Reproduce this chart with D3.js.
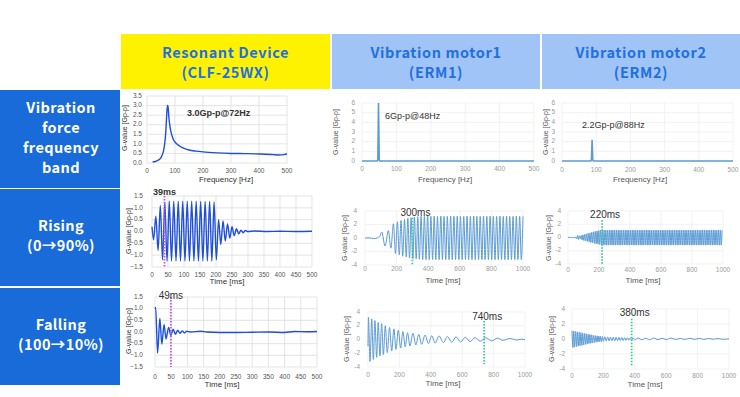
<!DOCTYPE html>
<html>
<head>
<meta charset="utf-8">
<script src="https://cdn.jsdelivr.net/npm/d3@7"></script>
<style>
  body { margin: 0; background: #fff; }
  svg { display: block; }
</style>
</head>
<body>
<svg id="canvas" width="740" height="397"></svg>
<script>
// ---- table text ----
let columnTitles = [['Resonant Device', '(CLF-25WX)'], ['Vibration motor1', '(ERM1)'], ['Vibration motor2', '(ERM2)']];
let rowTitles = [['Vibration', 'force', 'frequency', 'band'], ['Rising', '(0\u219290%)'], ['Falling', '(100\u219210%)']];

// ---- ticks ----
let freqTicks = [0, 100, 200, 300, 400, 500];
let resFreqYTicks = [0, 0.5, 1, 1.5, 2, 2.5, 3, 3.5];
let ermFreqYTicks = [0, 1, 2, 3, 4, 5, 6];
let resTimeTicks = [0, 50, 100, 150, 200, 250, 300, 350, 400, 450, 500];
let resGTicks = [-1.5, -1, -0.5, 0, 0.5, 1, 1.5];
let ermTimeTicks = [0, 200, 400, 600, 800, 1000];
let ermGTicks = [-4, -2, 0, 2, 4];

// ---- frequency response ----
let resFreqHz = [20, 30, 40, 45, 50, 55, 60, 64, 67, 70, 73, 75, 78, 82, 86, 90, 95, 100, 110, 120, 135, 150, 175, 200, 250, 300, 350, 400, 450, 470, 490, 500];
let resFreqG = [0.05, 0.08, 0.15, 0.2, 0.28, 0.45, 0.7, 1.1, 1.6, 2.4, 3.0, 2.95, 2.4, 1.9, 1.6, 1.4, 1.2, 1.1, 0.95, 0.85, 0.75, 0.68, 0.62, 0.58, 0.53, 0.5, 0.49, 0.47, 0.44, 0.42, 0.44, 0.47];
let erm1FreqHz = [0, 44, 46, 48, 50, 52, 500];
let erm1FreqG = [0, 0, 0.1, 6, 0.1, 0, 0];
let erm2FreqHz = [0, 84, 86, 88, 90, 92, 500];
let erm2FreqG = [0, 0, 0.1, 2.2, 0.1, 0, 0];

// ---- waveforms: [time ms, G] at each turning point ----
let resRise = [[0, 0.2], [5, -0.35], [12, 0.65], [19, -0.8], [26, 1.1], [33, -1.2], [40, 1.25], [47, -1.25], [54, 1.28], [61, -1.25],
  [68, 1.28], [75, -1.25], [82, 1.28], [89, -1.25], [96, 1.28], [103, -1.25], [110, 1.28], [117, -1.25], [124, 1.28], [131, -1.25],
  [138, 1.28], [145, -1.25], [152, 1.27], [159, -1.25], [166, 1.27], [173, -1.25], [180, 1.27], [187, -1.25], [194, 1.25], [201, -1.2],
  [208, 0.5], [215, -0.55], [222, 0.45], [229, -0.4], [236, 0.32], [243, -0.28], [250, 0.2], [257, -0.18], [264, 0.12], [271, -0.1],
  [278, 0.06], [285, -0.05], [292, 0.04], [300, 0], [320, 0.02], [360, 0], [400, 0.01], [450, 0], [500, 0.01]];

let resFall = [[0, 1.0], [2, 1.05], [8, -0.9], [15, 0.58], [21, -0.52], [28, 0.32], [34, -0.3], [42, 0.2], [49, -0.15], [56, 0.12],
  [63, -0.1], [70, 0.08], [77, -0.06], [84, 0.05], [91, -0.04], [98, 0.03], [110, 0], [140, 0.03], [160, 0], [200, -0.02],
  [250, -0.02], [300, -0.01], [350, 0], [400, -0.02], [430, 0.02], [470, 0.01], [500, 0.02]];

let erm1Rise = [[0, 0], [30, 0.02], [55, -0.1], [80, 0.05], [95, 0.3], [106, 0.9], [127, -1.2], [148, 1.1], [164, -1.5], [180, 2.1],
  [193, -2.3], [205, 2.4], [217, -2.5], [228, 2.6], [239, -2.7], [250, 2.75], [261, -2.8], [271, 2.9], [282, -2.95], [292, 3.0],
  [303, -3.05], [313, 3.1], [324, -3.1], [334, 3.15], [344, -3.15], [355, 3.2], [365, -3.2], [376, 3.2], [386, -3.2], [396, 3.25],
  [407, -3.2], [417, 3.2], [428, -3.2], [438, 3.25], [448, -3.2], [459, 3.2], [469, -3.2], [480, 3.25], [490, -3.2], [500, 3.2],
  [511, -3.2], [521, 3.2], [532, -3.2], [542, 3.25], [552, -3.2], [563, 3.2], [573, -3.2], [584, 3.25], [594, -3.2], [604, 3.2],
  [615, -3.2], [625, 3.2], [636, -3.2], [646, 3.25], [656, -3.2], [667, 3.2], [677, -3.2], [688, 3.25], [698, -3.2], [708, 3.2],
  [719, -3.2], [729, 3.2], [740, -3.2], [750, 3.25], [760, -3.2], [771, 3.2], [781, -3.2], [792, 3.25], [802, -3.2], [812, 3.2],
  [823, -3.2], [833, 3.2], [844, -3.2], [854, 3.25], [864, -3.2], [875, 3.2], [885, -3.2], [896, 3.25], [906, -3.2], [916, 3.2],
  [927, -3.2], [937, 3.2], [948, -3.2], [958, 3.25], [968, -3.2], [979, 3.2], [989, -3.2], [1000, 3.2]];

let erm1Fall = [[0, -1], [3, 3.2], [13, -3.2], [24, 3.0], [34, -2.9], [44, 2.75], [55, -2.6], [65, 2.5], [76, -2.4], [87, 2.3],
  [98, -2.2], [110, 2.0], [123, -1.9], [137, 1.75], [151, -1.65], [165, 1.55], [178, -1.45], [193, 1.35], [208, -1.25], [222, 1.15],
  [237, -1.05], [252, 1.0], [267, -0.95], [286, 0.9], [305, -0.8], [323, 0.75], [342, -0.7], [363, 0.65], [385, -0.6], [406, 0.55],
  [427, -0.5], [453, 0.5], [480, -0.45], [506, 0.45], [533, -0.4], [561, 0.38], [590, -0.35], [620, 0.33], [650, -0.3], [682, 0.28],
  [715, -0.25], [750, 0.25], [788, -0.2], [824, 0.2], [860, -0.12], [903, 0.15], [947, -0.08], [975, 0.05], [1000, 0]];

// ERM2 rising is sampled at every half cycle (88 Hz)
let erm2RiseStep = 5.68;
let erm2Rise = [0, 0.02, -0.02, 0.03, -0.03, 0.02, -0.05, 0.05, -0.1, 0.1,
  -0.2, 0.3, -0.3, 0.25, -0.2, 0.3, -0.35, 0.4, -0.45, 0.5,
  -0.5, 0.55, -0.6, 0.65, -0.65, 0.7, -0.75, 0.8, -0.8, 0.85,
  -0.9, 0.95, -0.95, 1.0, -1.0, 1.05, -1.05, 1.1, -1.1, 1.1,
  -1.15, 1.1, -1.15, 1.12, -1.15, 1.1, -1.15, 1.1, -1.12, 1.1, -1.15, 1.12, -1.15, 1.1, -1.15, 1.1, -1.12, 1.1, -1.15, 1.12,
  -1.15, 1.1, -1.15, 1.1, -1.12, 1.1, -1.15, 1.12, -1.15, 1.1, -1.15, 1.1, -1.12, 1.1, -1.15, 1.12, -1.15, 1.1, -1.15, 1.1,
  -1.12, 1.1, -1.15, 1.12, -1.15, 1.1, -1.15, 1.1, -1.12, 1.1, -1.15, 1.12, -1.15, 1.1, -1.15, 1.1, -1.12, 1.1, -1.15, 1.12,
  -1.15, 1.1, -1.15, 1.1, -1.12, 1.1, -1.15, 1.12, -1.15, 1.1, -1.15, 1.1, -1.12, 1.1, -1.15, 1.12, -1.15, 1.1, -1.15, 1.1,
  -1.12, 1.1, -1.15, 1.12, -1.15, 1.1, -1.15, 1.1, -1.12, 1.1, -1.15, 1.12, -1.15, 1.1, -1.15, 1.1, -1.12, 1.1, -1.15, 1.12,
  -1.15, 1.1, -1.15, 1.1, -1.12, 1.1, -1.15, 1.12, -1.15, 1.1, -1.15, 1.1, -1.12, 1.1, -1.15, 1.12, -1.15, 1.1, -1.15, 1.1,
  -1.12, 1.1, -1.15, 1.12, -1.15, 1.1, -1.15, 1.1, -1.12, 1.1, -1.15, 1.12, -1.15, 1.1, -1.15, 1.1];

let erm2Fall = [[0, 1.1], [6, -1.15], [11, 1.05], [17, -1.05], [23, 1.0], [29, -1.0], [34, 0.95], [40, -0.95], [46, 0.9], [51, -0.9],
  [57, 0.85], [63, -0.85], [68, 0.8], [74, -0.8], [80, 0.75], [86, -0.72], [91, 0.7], [97, -0.68], [103, 0.65], [108, -0.62],
  [114, 0.6], [120, -0.57], [125, 0.55], [131, -0.52], [137, 0.5], [143, -0.48], [148, 0.45], [154, -0.43], [160, 0.42], [165, -0.4],
  [171, 0.38], [177, -0.36], [182, 0.35], [188, -0.33], [194, 0.32], [200, -0.3],
  [209, 0.3], [218, -0.28], [227, 0.28], [236, -0.26], [245, 0.26], [254, -0.25], [263, 0.25], [272, -0.24], [281, 0.23], [290, -0.22],
  [299, 0.22], [308, -0.2], [317, 0.2], [326, -0.2], [335, 0.18], [344, -0.18], [353, 0.17], [362, -0.16], [371, 0.15], [380, -0.15],
  [389, 0.14], [398, -0.13],
  [420, 0.12], [445, -0.1], [470, 0.1], [495, -0.1], [520, 0.12], [548, -0.08], [575, 0.1], [600, -0.08], [630, 0.12], [660, -0.06],
  [690, 0.08], [720, -0.06], [750, 0.1], [780, -0.05], [810, 0.08], [840, -0.05], [870, 0.07], [900, -0.04], [930, 0.06], [960, -0.04],
  [1000, 0.02]];

// ---- measured times ----
let markerTimes = { resRise: 39, resFall: 49, erm1Rise: 300, erm1Fall: 740, erm2Rise: 220, erm2Fall: 380 };

let canvas = d3.select('#canvas');
let headFont = "'Noto Sans CJK JP', 'Noto Sans', sans-serif";
let chartFont = "'Liberation Sans', Arial, sans-serif";

// ---- table ----
canvas.append('rect').attr('width', 740).attr('height', 397).attr('fill', '#fff');

let colX = [[121, 209], [332, 208], [542, 198]];
let colFill = ['#fff200', '#9fc4f5', '#9fc4f5'];
let rowY = [[90, 98], [189, 97], [288, 97]];

canvas.selectAll('.colhead')
  .data(columnTitles)
  .enter()
  .append('rect')
  .attr('x', (d, i) => colX[i][0])
  .attr('y', 34)
  .attr('width', (d, i) => colX[i][1])
  .attr('height', 55)
  .attr('fill', (d, i) => colFill[i]);

columnTitles.forEach((lines, i) => {
  lines.forEach((t, j) => {
    canvas.append('text')
      .attr('x', colX[i][0] + colX[i][1] / 2)
      .attr('y', 54 + j * 20)
      .attr('text-anchor', 'middle')
      .attr('dominant-baseline', 'middle')
      .attr('font-family', headFont)
      .attr('font-weight', 700)
      .attr('font-size', 14.5)
      .attr('letter-spacing', 0.6)
      .attr('fill', '#2270e0')
      .text(t);
  });
});

canvas.selectAll('.rowhead')
  .data(rowTitles)
  .enter()
  .append('rect')
  .attr('x', 0)
  .attr('y', (d, i) => rowY[i][0])
  .attr('width', 120)
  .attr('height', (d, i) => rowY[i][1])
  .attr('fill', '#1a6bda');

rowTitles.forEach((lines, i) => {
  let mid = rowY[i][0] + rowY[i][1] / 2;
  lines.forEach((t, j) => {
    canvas.append('text')
      .attr('x', 61)
      .attr('y', mid + (j - (lines.length - 1) / 2) * 20)
      .attr('text-anchor', 'middle')
      .attr('dominant-baseline', 'middle')
      .attr('font-family', headFont)
      .attr('font-weight', 700)
      .attr('font-size', 14.5)
      .attr('letter-spacing', 0.4)
      .attr('fill', '#fff')
      .text(t);
  });
});

// ---- one small chart ----
let drawPanel = (p) => {
  let g = canvas.append('g');
  let x = d3.scaleLinear().domain(p.xDomain).range([p.x0, p.x1]);
  let y = d3.scaleLinear().domain(p.yDomain).range([p.yb, p.yt]);

  g.selectAll('.hg').data(p.yTicks).enter().append('line')
    .attr('x1', p.x0).attr('x2', p.x1)
    .attr('y1', d => y(d)).attr('y2', d => y(d))
    .attr('stroke', p.grid).attr('stroke-width', 0.7);
  g.selectAll('.vg').data(p.xTicks).enter().append('line')
    .attr('x1', d => x(d)).attr('x2', d => x(d))
    .attr('y1', p.yt).attr('y2', p.yb)
    .attr('stroke', p.grid).attr('stroke-width', 0.7);

  g.selectAll('.yl').data(p.yTicks).enter().append('text')
    .attr('x', p.yLabelX).attr('y', d => y(d))
    .attr('text-anchor', 'end').attr('dominant-baseline', 'middle')
    .attr('font-family', chartFont).attr('font-size', p.tickSize)
    .attr('fill', p.tickColor)
    .text(d => p.yFormat ? d3.format(p.yFormat)(d) : d);
  g.selectAll('.xl').data(p.xTicks).enter().append('text')
    .attr('x', d => x(d)).attr('y', p.xLabelY)
    .attr('text-anchor', 'middle').attr('dominant-baseline', 'middle')
    .attr('font-family', chartFont).attr('font-size', p.tickSize)
    .attr('fill', p.tickColor)
    .text(d => d);

  g.append('text')
    .attr('x', p.xTitle[0]).attr('y', p.xTitle[1])
    .attr('text-anchor', 'middle').attr('dominant-baseline', 'middle')
    .attr('font-family', chartFont).attr('font-size', 8)
    .attr('fill', p.titleColor)
    .text(p.xName);
  g.append('text')
    .attr('transform', 'translate(' + p.yTitle[0] + ',' + p.yTitle[1] + ') rotate(-90)')
    .attr('text-anchor', 'middle').attr('dominant-baseline', 'middle')
    .attr('font-family', chartFont).attr('font-size', 7)
    .attr('fill', p.titleColor)
    .text('G-value [Gp-p]');

  let line = d3.line()
    .x(d => x(d[0]))
    .y(d => y(d[1]))
    .curve(p.smooth ? d3.curveMonotoneX : d3.curveLinear);
  g.append('path')
    .datum(p.data)
    .attr('d', line)
    .attr('fill', 'none')
    .attr('stroke', p.color)
    .attr('stroke-width', p.width);

  if (p.marker !== undefined) {
    g.append('line')
      .attr('x1', x(p.marker)).attr('x2', x(p.marker))
      .attr('y1', y(p.markerTop)).attr('y2', y(p.markerBottom))
      .attr('stroke', p.markerColor).attr('stroke-width', 1.8)
      .attr('stroke-dasharray', '1.5,1.5');
    g.append('text')
      .attr('x', x(p.marker) + p.markerDx).attr('y', p.markerLabelY)
      .attr('text-anchor', 'middle').attr('dominant-baseline', 'middle')
      .attr('font-family', chartFont).attr('font-size', p.markerSize)
      .attr('font-weight', p.markerBold ? 700 : 400)
      .attr('fill', '#333')
      .text(p.marker + 'ms');
  }
  if (p.note) {
    g.append('text')
      .attr('x', p.note[1]).attr('y', p.note[2])
      .attr('dominant-baseline', 'middle')
      .attr('font-family', chartFont).attr('font-size', 9)
      .attr('font-weight', p.noteBold ? 700 : 400)
      .attr('fill', '#333')
      .text(p.note[0]);
  }
};

let resStyle = { grid: '#d9d9d9', tickSize: 6.5, tickColor: '#555', titleColor: '#333', color: '#1f4fd8', width: 1.4 };
let ermStyle = { grid: '#ececec', tickSize: 6.5, tickColor: '#999', titleColor: '#555', color: '#5b9bd5', width: 1 };

let zipPairs = (xs, ys) => xs.map((v, i) => [v, ys[i]]);

// frequency row
drawPanel(Object.assign({}, resStyle, {
  x0: 147, x1: 287, yb: 163, yt: 96, xDomain: [0, 500], yDomain: [0, 3.5],
  xTicks: freqTicks, yTicks: resFreqYTicks, yFormat: '.1f', yLabelX: 142, xLabelY: 171,
  xTitle: [226, 180], yTitle: [125, 128], xName: 'Frequency [Hz]',
  data: zipPairs(resFreqHz, resFreqG), smooth: true,
  note: ['3.0Gp-p@72Hz', 187, 114], noteBold: true
}));
drawPanel(Object.assign({}, ermStyle, {
  x0: 362, x1: 534, yb: 161, yt: 103, xDomain: [0, 500], yDomain: [0, 6],
  xTicks: freqTicks, yTicks: ermFreqYTicks, yLabelX: 355, xLabelY: 169,
  xTitle: [445, 180], yTitle: [336, 132], xName: 'Frequency [Hz]',
  data: zipPairs(erm1FreqHz, erm1FreqG), smooth: false, width: 1.6,
  note: ['6Gp-p@48Hz', 385, 117]
}));
drawPanel(Object.assign({}, ermStyle, {
  x0: 562, x1: 733, yb: 161, yt: 103, xDomain: [0, 500], yDomain: [0, 6],
  xTicks: freqTicks, yTicks: ermFreqYTicks, yLabelX: 555, xLabelY: 170,
  xTitle: [640, 180], yTitle: [546, 132], xName: 'Frequency [Hz]',
  data: zipPairs(erm2FreqHz, erm2FreqG), smooth: false, width: 1.6,
  note: ['2.2Gp-p@88Hz', 582, 126]
}));

// rising row
drawPanel(Object.assign({}, resStyle, {
  x0: 152, x1: 312, yb: 267, yt: 196, xDomain: [0, 500], yDomain: [-1.5, 1.5],
  xTicks: resTimeTicks, yTicks: resGTicks, yFormat: '.1f', yLabelX: 143, xLabelY: 275,
  xTitle: [227, 282], yTitle: [129, 231], xName: 'Time [ms]',
  data: resRise, smooth: true,
  marker: markerTimes.resRise, markerTop: 1.5, markerBottom: -1.5, markerColor: '#c653f0',
  markerDx: 0, markerLabelY: 193, markerSize: 9, markerBold: true
}));
drawPanel(Object.assign({}, ermStyle, {
  x0: 365, x1: 523, yb: 265, yt: 211, xDomain: [0, 1000], yDomain: [-4, 4],
  xTicks: ermTimeTicks, yTicks: ermGTicks, yLabelX: 357, xLabelY: 269,
  xTitle: [443, 281], yTitle: [345, 238], xName: 'Time [ms]',
  data: erm1Rise, smooth: true,
  marker: markerTimes.erm1Rise, markerTop: 3, markerBottom: -4, markerColor: '#33c99a',
  markerDx: 3, markerLabelY: 213, markerSize: 10
}));
drawPanel(Object.assign({}, ermStyle, {
  x0: 568, x1: 723, yb: 264, yt: 211, xDomain: [0, 1000], yDomain: [-4, 4],
  xTicks: ermTimeTicks, yTicks: ermGTicks, yLabelX: 561, xLabelY: 270,
  xTitle: [643, 281], yTitle: [549, 238], xName: 'Time [ms]',
  data: erm2Rise.map((v, i) => [i * erm2RiseStep, v]), smooth: true,
  marker: markerTimes.erm2Rise, markerTop: 2.6, markerBottom: -4, markerColor: '#33c99a',
  markerDx: 3, markerLabelY: 215, markerSize: 10
}));

// falling row
drawPanel(Object.assign({}, resStyle, {
  x0: 155, x1: 317, yb: 367, yt: 297, xDomain: [0, 500], yDomain: [-1.5, 1.5],
  xTicks: resTimeTicks, yTicks: resGTicks, yFormat: '.1f', yLabelX: 143, xLabelY: 377,
  xTitle: [222, 385], yTitle: [129, 331], xName: 'Time [ms]',
  data: resFall, smooth: true,
  marker: markerTimes.resFall, markerTop: 1.5, markerBottom: -1.5, markerColor: '#c653f0',
  markerDx: 0, markerLabelY: 296, markerSize: 10
}));
drawPanel(Object.assign({}, ermStyle, {
  x0: 368, x1: 525, yb: 367, yt: 312, xDomain: [0, 1000], yDomain: [-4, 4],
  xTicks: ermTimeTicks, yTicks: ermGTicks, yLabelX: 360, xLabelY: 375,
  xTitle: [443, 384], yTitle: [347, 339], xName: 'Time [ms]',
  data: erm1Fall, smooth: true,
  marker: markerTimes.erm1Fall, markerTop: 2.7, markerBottom: -3.6, markerColor: '#33c99a',
  markerDx: 3, markerLabelY: 317, markerSize: 10
}));
drawPanel(Object.assign({}, ermStyle, {
  x0: 572, x1: 729, yb: 369, yt: 309, xDomain: [0, 1000], yDomain: [-4, 4],
  xTicks: ermTimeTicks, yTicks: ermGTicks, yLabelX: 565, xLabelY: 376,
  xTitle: [645, 385], yTitle: [552, 339], xName: 'Time [ms]',
  data: erm2Fall, smooth: true,
  marker: markerTimes.erm2Fall, markerTop: 2.7, markerBottom: -3.7, markerColor: '#33c99a',
  markerDx: 3, markerLabelY: 313, markerSize: 10
}));
</script>
</body>
</html>
